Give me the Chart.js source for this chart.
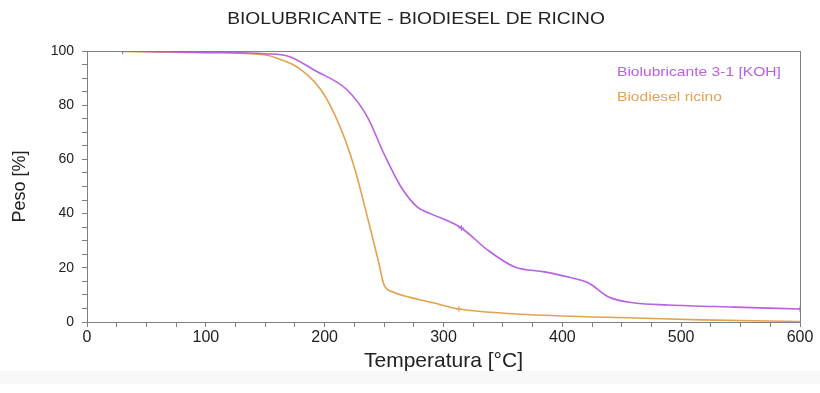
<!DOCTYPE html>
<html>
<head>
<meta charset="utf-8">
<script src="https://cdn.jsdelivr.net/npm/chart.js@4.4.1/dist/chart.umd.min.js"></script>
<style>
  html, body { margin: 0; padding: 0; background: #fff; }
  #wrap { width: 820px; height: 393px; }
</style>
</head>
<body>
<div id="wrap"><canvas id="tga"></canvas></div>
<script>
// TGA curves: temperature [°C] vs remaining weight [%]
var tempBiolub = [30, 100, 150, 170, 191, 219, 236, 250, 264, 278, 289, 315, 337, 360, 385, 405, 422, 439, 461, 489, 545, 600];
var pesoBiolub = [100, 99.5, 99, 98, 93, 85.6, 75.6, 62, 50, 42.4, 40, 34.7, 26.6, 20.3, 18.5, 16.6, 14.4, 9.2, 7, 6.3, 5.5, 4.8];

var tempRicino = [30, 100, 150, 165, 177, 197, 213, 225, 236, 245, 250, 258, 270, 292, 313, 349, 399, 461, 517, 600];
var pesoRicino = [99.8, 99.4, 98.5, 96.5, 94, 85.6, 72, 57, 38.7, 22.9, 13.7, 11, 9.3, 7, 4.8, 3.3, 2.2, 1.5, 0.8, 0.2];

// temperatures where the instrument left a small marker
var marcasBiolub = [30, 315, 600];
var marcasRicino = [30, 313];

var xTicks = [0, 100, 200, 300, 400, 500, 600];
var yTicks = [0, 20, 40, 60, 80, 100];

var titulo = 'BIOLUBRICANTE - BIODIESEL DE RICINO';
var nombres = ['Biolubricante 3-1 [KOH]', 'Biodiesel ricino'];
var colores = ['#bb5fe3', '#e3a24f'];

function toPoints(xs, ys) {
  return xs.map(function (x, i) { return { x: x, y: ys[i] }; });
}

function marcaRadio(marcas) {
  return function (ctx) {
    var p = ctx.raw;
    return p && marcas.indexOf(p.x) >= 0 ? 3 : 0;
  };
}

var axisGray = '#808080';
var font = 'Liberation Sans, Arial, sans-serif';

// text drawn a bit wider than the font, like the exported figure
function wideText(c, txt, x, y, sx) {
  c.save();
  c.translate(x, y);
  c.scale(sx, 1);
  c.fillText(txt, 0, 0);
  c.restore();
}

// light band under the x title
var fondo = {
  id: 'fondo',
  beforeDraw: function (chart) {
    var c = chart.ctx;
    c.save();
    c.fillStyle = '#f8f8f8';
    c.fillRect(0, 371, chart.width, 13);
    c.restore();
  }
};

// title, frame and the text-only legend
var extras = {
  id: 'extras',
  afterDraw: function (chart) {
    var c = chart.ctx, a = chart.chartArea;
    c.save();
    c.strokeStyle = axisGray;
    c.lineWidth = 1;
    c.strokeRect(a.left + 0.5, a.top + 0.5, a.right - a.left, a.bottom - a.top);

    c.fillStyle = '#222';
    c.font = '16px ' + font;
    c.textAlign = 'center';
    c.textBaseline = 'middle';
    wideText(c, titulo, chart.width / 2 + 6, 20, 1.2);

    c.font = '13px ' + font;
    c.textAlign = 'left';
    nombres.forEach(function (n, i) {
      c.fillStyle = colores[i];
      wideText(c, n, 617, 72 + i * 25, 1.2);
    });
    c.restore();
  }
};

new Chart(document.getElementById('tga'), {
  type: 'line',
  data: {
    datasets: [{
      label: nombres[0],
      data: toPoints(tempBiolub, pesoBiolub),
      borderColor: colores[0],
      borderWidth: 1.6,
      pointStyle: 'cross',
      pointRadius: marcaRadio(marcasBiolub),
      pointBorderColor: colores[0],
      pointBorderWidth: 1,
      cubicInterpolationMode: 'monotone'
    }, {
      label: nombres[1],
      data: toPoints(tempRicino, pesoRicino),
      borderColor: colores[1],
      borderWidth: 1.6,
      pointStyle: 'cross',
      pointRadius: marcaRadio(marcasRicino),
      pointBorderColor: colores[1],
      pointBorderWidth: 1,
      cubicInterpolationMode: 'monotone'
    }]
  },
  options: {
    responsive: true,
    maintainAspectRatio: false,
    animation: false,
    layout: { padding: { top: 51, right: 20, bottom: 21, left: 0 } },
    plugins: {
      legend: { display: false },
      tooltip: { enabled: false }
    },
    scales: {
      x: {
        type: 'linear',
        min: 0,
        max: 600,
        afterBuildTicks: function (s) {
          var t = [];
          for (var v = 0; v <= 600; v += 25) t.push({ value: v });
          s.ticks = t;
        },
        ticks: {
          autoSkip: false,
          maxRotation: 0,
          color: '#222',
          font: { family: font, size: 16, lineHeight: 1 },
          padding: 3,
          callback: function (v) { return xTicks.indexOf(v) >= 0 ? String(v) : ''; }
        },
        grid: { drawOnChartArea: false, color: axisGray, tickLength: 5 },
        border: { color: axisGray },
        title: {
          display: true,
          text: 'Temperatura [°C]',
          color: '#222',
          font: { family: font, size: 21, lineHeight: 1 },
          padding: { top: 2, bottom: 0 }
        }
      },
      y: {
        min: 0,
        max: 100,
        afterBuildTicks: function (s) {
          var t = [];
          for (var v = 0; v <= 100; v += 5) t.push({ value: v });
          s.ticks = t;
        },
        afterFit: function (s) { s.width = 87; },
        ticks: {
          autoSkip: false,
          color: '#222',
          font: { family: font, size: 14 },
          padding: 8,
          callback: function (v) { return yTicks.indexOf(v) >= 0 ? String(v) : ''; }
        },
        grid: { drawOnChartArea: false, color: axisGray, tickLength: 5 },
        border: { color: axisGray },
        title: {
          display: true,
          text: 'Peso [%]',
          color: '#222',
          font: { family: font, size: 18, lineHeight: 1 },
          padding: { top: 11, bottom: 0 }
        }
      }
    }
  },
  plugins: [fondo, extras]
});
</script>
</body>
</html>
